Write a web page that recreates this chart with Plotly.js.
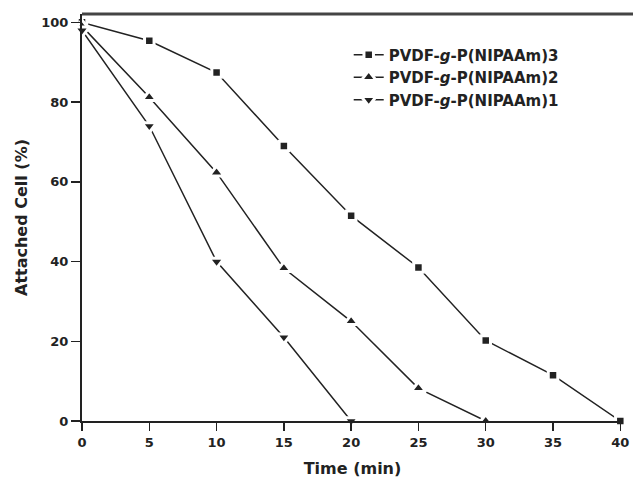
<!DOCTYPE html>
<html>
<head>
<meta charset="utf-8">
<script src="https://cdn.plot.ly/plotly-3.0.1.min.js"></script>
<style>html,body{margin:0;padding:0;background:#fff}#chart{width:633px;height:481px}</style>
</head>
<body>
<div id="chart"></div>
<script>
var time3 = [0, 5, 10, 15, 20, 25, 30, 35, 40];
var cell3 = [100, 95.4, 87.4, 69, 51.5, 38.5, 20.2, 11.5, 0];
var time2 = [0, 5, 10, 15, 20, 25, 30];
var cell2 = [99, 81.2, 62.3, 38.3, 25, 8.2, 0];
var time1 = [0, 5, 10, 15, 20];
var cell1 = [98, 74, 40, 21, 0];
var names = ['PVDF-<i>g</i>-P(NIPAAm)3', 'PVDF-<i>g</i>-P(NIPAAm)2', 'PVDF-<i>g</i>-P(NIPAAm)1'];
var xTicks = [0, 5, 10, 15, 20, 25, 30, 35, 40];
var yTicks = [0, 20, 40, 60, 80, 100];

var ink = '#222';
function tr(x, y, name, sym, size) {
  return {
    x: x, y: y, name: name, type: 'scatter', mode: 'lines+markers',
    line: {color: ink, width: 1.5},
    marker: {symbol: sym, size: size, color: ink, line: {color: '#fff', width: 3}},
    cliponaxis: false
  };
}
var data = [
  tr(time3, cell3, names[0], 'square', 9.5),
  tr(time2, cell2, names[1], 'triangle-up', 13),
  tr(time1, cell1, names[2], 'triangle-down', 13)
];
var fam = 'DejaVu Sans, sans-serif';
var layout = {
  width: 633, height: 481,
  margin: {l: 82, r: 10, t: 14, b: 60},
  paper_bgcolor: '#fff', plot_bgcolor: '#fff',
  font: {family: fam, color: ink},
  showlegend: true,
  legend: {x: 0.493, y: 0.94, xanchor: 'left', yanchor: 'top', bgcolor: 'rgba(0,0,0,0)',
           font: {family: fam, size: 15, color: ink, weight: 'bold'}, tracegroupgap: 0},
  xaxis: {
    range: [0, 40.2], tickvals: xTicks, ticktext: xTicks.map(String),
    showgrid: false, zeroline: false, showline: true, linecolor: ink, linewidth: 2,
    ticks: 'outside', ticklen: 8, tickwidth: 1.5, tickcolor: ink,
    ticklabeloverflow: 'allow',
    tickfont: {size: 13, color: ink, family: fam, weight: 'bold'},
    title: {text: 'Time (min)', font: {size: 16, color: ink, weight: 'bold'}, standoff: 14}
  },
  yaxis: {
    range: [0, 102.1], tickvals: yTicks, ticktext: yTicks.map(String),
    showgrid: false, zeroline: false, showline: true, linecolor: ink, linewidth: 2,
    ticks: 'outside', ticklen: 9, tickwidth: 1.5, tickcolor: ink,
    tickfont: {size: 13, color: ink, family: fam, weight: 'bold'},
    title: {text: 'Attached Cell (%)', font: {size: 16, color: ink, weight: 'bold'}, standoff: 10}
  },
  shapes: [{type: 'line', xref: 'paper', yref: 'paper', x0: 0, x1: 1.02, y0: 1, y1: 1,
            line: {color: '#444', width: 3}}]
};
Plotly.newPlot('chart', data, layout, {staticPlot: true, displayModeBar: false});
</script>
</body>
</html>
